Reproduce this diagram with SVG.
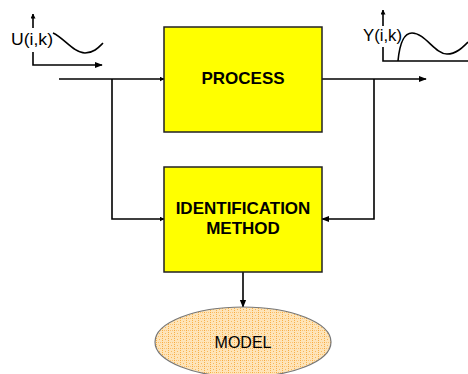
<svg xmlns="http://www.w3.org/2000/svg" width="468" height="374" viewBox="0 0 468 374">
<style>
.ln{stroke:#000;stroke-width:1.6;fill:none}
.box{fill:#FFFF00;stroke:#222;stroke-width:1.5}
.bt{font-family:"Liberation Sans",Arial,sans-serif;font-weight:bold;font-size:17px;text-anchor:middle;fill:#000}
.lt{font-family:"Liberation Sans",Arial,sans-serif;font-size:16px;fill:#000}
</style>
<defs>
<marker id="ah" viewBox="0 0 10 10" refX="9" refY="5" markerWidth="5" markerHeight="5" orient="auto" markerUnits="userSpaceOnUse"><path d="M0,0 L10,5 L0,10 z" fill="#000"/></marker>
<marker id="ah2" viewBox="0 0 10 10" refX="9" refY="5" markerWidth="8" markerHeight="8" orient="auto" markerUnits="userSpaceOnUse"><path d="M0,1 L10,5 L0,9 z" fill="#000"/></marker>
<pattern id="dots" width="6" height="6" patternUnits="userSpaceOnUse">
<rect width="6" height="6" fill="#FEE4B8"/>
<rect x="0" y="0" width="1" height="1" fill="#F8A838"/>
<rect x="0" y="2" width="1" height="1" fill="#F8B048"/>
<rect x="0" y="4" width="1" height="1" fill="#F8B048"/>
<rect x="3" y="3" width="1" height="1" fill="#F9B85A"/>
<rect x="2" y="0" width="1" height="1" fill="#FAC070"/>
<rect x="4" y="0" width="1" height="1" fill="#FAC070"/>
</pattern>
</defs>
<g id="connectors">
<line class="ln" x1="59" y1="79" x2="164" y2="79" marker-end="url(#ah)"/>
<polyline class="ln" points="112,79 112,219 164,219" marker-end="url(#ah)"/>
<line class="ln" x1="322" y1="79" x2="426" y2="79" marker-end="url(#ah2)"/>
<polyline class="ln" points="374,79 374,219 322,219" marker-end="url(#ah2)"/>
<line class="ln" x1="243" y1="272" x2="243" y2="307" marker-end="url(#ah2)"/>
</g>
<g id="input-graph">
<line class="ln" x1="33" y1="28" x2="33" y2="14" marker-end="url(#ah)"/>
<polyline class="ln" points="33,52 33,65 102,65" marker-end="url(#ah2)"/>
<text class="lt" x="11" y="45" textLength="42" lengthAdjust="spacingAndGlyphs">U(i,k)</text>
<path class="ln" d="M53,33 C64,38 74,53 85,53 C94,53 99,47 103,43"/>
</g>
<g id="output-graph">
<line class="ln" x1="383" y1="26" x2="383" y2="10" marker-end="url(#ah)"/>
<polyline class="ln" points="383,47 383,61 468,61"/>
<text class="lt" x="363" y="41" textLength="39" lengthAdjust="spacingAndGlyphs">Y(i,k)</text>
<path class="ln" d="M398,61 C399,50 402,33 412,33 C425,33 435,54 447,54 C456,54 462,48 468,42"/>
</g>
<g id="process">
<rect class="box" x="164" y="27" width="158" height="105"/>
<text class="bt" x="243" y="84">PROCESS</text>
</g>
<g id="identification">
<rect class="box" x="164" y="167" width="158" height="105"/>
<text class="bt" x="243" y="214">IDENTIFICATION</text>
<text class="bt" x="243" y="234">METHOD</text>
</g>
<g id="model">
<ellipse cx="243" cy="342" rx="88" ry="35" fill="url(#dots)" stroke="#777" stroke-width="1.2"/>
<text class="lt" x="243" y="348" text-anchor="middle" font-size="16.5">MODEL</text>
</g>
</svg>
